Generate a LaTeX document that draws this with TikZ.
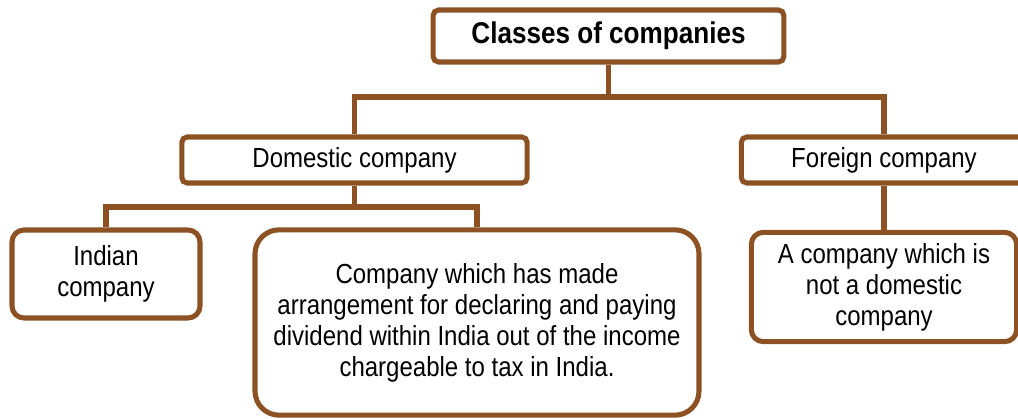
\documentclass[tikz,border=0pt]{standalone}
\usepackage{fontspec}
\setmainfont{Liberation Sans}[FakeStretch=0.87]
\definecolor{bark}{RGB}{140,82,35}
\begin{document}
\begin{tikzpicture}[x=0.75pt,y=-0.75pt,
  box/.style={draw=bark,line width=3.8pt,fill=white,align=center,inner sep=0pt,
    font=\fontsize{20.7}{23.2}\selectfont},
  headbox/.style={box,rounded corners=4pt},
  leafbox/.style={box,rounded corners=9pt},
  link/.style={draw=bark,line width=3.8pt}]
\useasboundingbox (0,0) rectangle (1018,418);
% top level
\node[headbox,minimum width=263pt,minimum height=39pt,font=\fontsize{22.5}{26}\selectfont\bfseries] (classes) at (608.5,36) {Classes of companies};
\node[headbox,minimum width=259pt,minimum height=34.5pt] (domestic) at (354.5,160) {Domestic company};
\node[headbox,minimum width=214pt,minimum height=34.5pt] (foreign) at (884,160) {Foreign company};
% leaves
\node[leafbox,minimum width=141pt,minimum height=66pt] (indian) at (106,274) {Indian\\company};
\node[box,rounded corners=18pt,minimum width=333pt,minimum height=139pt] (arrange) at (477,322.5)
  {Company which has made\\arrangement for declaring and paying\\dividend within India out of the income\\chargeable to tax in India.};
\node[leafbox,minimum width=199pt,minimum height=82pt] (notdom) at (884,287) {A company which is\\not a domestic\\company};
% connectors
\coordinate (split) at (608.5,97);
\coordinate (dsplit) at (354.5,207);
\draw[link] (classes.south) -- (split);
\draw[link] (domestic.north) |- (split) -| (foreign.north);
\draw[link] (domestic.south) -- (dsplit);
\draw[link] (indian.north) |- (dsplit) -| (arrange.north);
\draw[link] (foreign.south) -- (notdom.north);
\end{tikzpicture}
\end{document}
